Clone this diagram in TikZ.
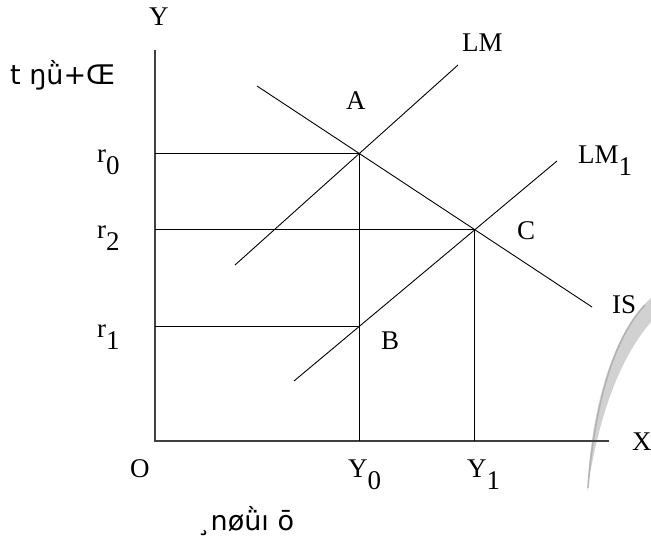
\documentclass[tikz,border=0pt]{standalone}
\usepackage{fontspec}
\setmainfont{Liberation Serif}
\newfontfamily\garbfont{DejaVu Sans}
\newcommand{\lowsub}[1]{\raisebox{-12pt}{#1}}
\begin{document}
\begin{tikzpicture}[x=1pt,y=-1pt,
  curve/.style={line width=0.9pt,black},
  axisline/.style={line width=1.2pt,black!75},
  guide/.style={line width=0.9pt,black},
  lab/.style={font=\fontsize{27}{27}\selectfont,inner sep=0pt,anchor=base west},
  garb/.style={font=\garbfont\fontsize{27}{27}\selectfont,inner sep=0pt,anchor=base west}]
\useasboundingbox (0,0) rectangle (651,541);
% scan streak
\fill[black!18] (651,298) .. controls (615,330) and (592,400) .. (587,492)
  .. controls (598,420) and (618,360) .. (651,322) -- cycle;
\draw[black!35,line width=1.5pt,opacity=0.7] (645,305) .. controls (612,340) and (594,410) .. (588,488);
% axes
\coordinate (O) at (155,441);
\coordinate (ytop) at (155,50);
\coordinate (xend) at (609,441);
\draw[axisline] (ytop) -- (O) -- (xend);
% curves
\coordinate (LMa) at (235,265);
\coordinate (LMb) at (458,65);
\coordinate (LMca) at (294,381);
\coordinate (LMcb) at (557,161);
\coordinate (ISa) at (257,86);
\coordinate (ISb) at (592,307);
\draw[curve] (LMa) -- (LMb);
\draw[curve] (LMca) -- (LMcb);
\draw[curve] (ISa) -- (ISb);
\coordinate (A) at (intersection of LMa--LMb and ISa--ISb);
\coordinate (C) at (intersection of LMca--LMcb and ISa--ISb);
\coordinate (Y0) at (A|-O);
\coordinate (Y1) at (C|-O);
\coordinate (B) at (intersection of LMca--LMcb and A--Y0);
\coordinate (r0) at (O|-A);
\coordinate (r2) at (O|-C);
\coordinate (r1) at (O|-B);
\draw[guide] (r0) -- (A) -- (Y0);
\draw[guide] (r2) -- (C) -- (Y1);
\draw[guide] (r1) -- (B);
% labels
\node[lab] (tY) at (149,25) {Y};
\node[lab] (tX) at (632,450) {X};
\node[lab] (tO) at (130,477) {O};
\node[lab] (tA) at (346,109) {A};
\node[lab] (tB) at (381,349) {B};
\node[lab] (tC) at (517,239) {C};
\node[lab] (tIS) at (612,313) {IS};
\node[lab] (tLM) at (462,51) {LM};
\node[lab] (tLM1) at (578,163) {LM\lowsub{1}};
\node[lab] (tr0) at (97,162) {r\lowsub{0}};
\node[lab] (tr2) at (97,238) {r\lowsub{2}};
\node[lab] (tr1) at (97,337) {r\lowsub{1}};
\node[lab] (tY0) at (348,477) {Y\lowsub{0}};
\node[lab] (tY1) at (467,477) {Y\lowsub{1}};
\node[garb] (ttop) at (10,84) {t ŋǜ+Œ};
\node[garb] (tbot) at (197,530) {¸nøǜı ō};
\end{tikzpicture}
\end{document}
